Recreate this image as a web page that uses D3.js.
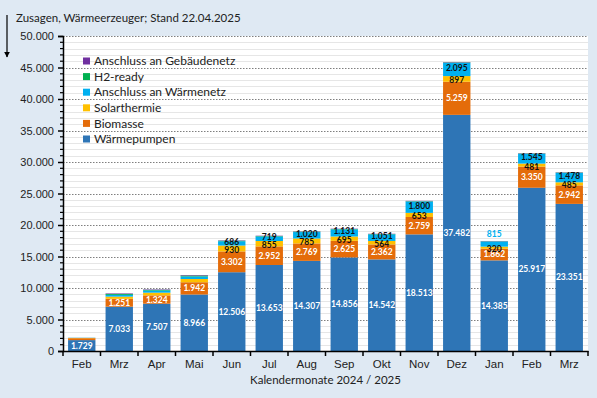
<!DOCTYPE html>
<html lang="de">
<head>
    <meta charset="UTF-8">
    <title>Zusagen Wärmeerzeuger</title>
    <script src="https://d3js.org/d3.v7.min.js"></script>
    <style>
        body { margin: 0; padding: 0; background: #dfe9f3; }
        svg { display: block; font-family: Lato, "Open Sans", sans-serif; }
        .tick text { fill: #222; }
    </style>
</head>
<body>
    <svg></svg>

    <script>
        // Monate (Kalendermonate 2024 / 2025)
        const months = ["Feb", "Mrz", "Apr", "Mai", "Jun", "Jul", "Aug", "Sep", "Okt", "Nov", "Dez", "Jan", "Feb ", "Mrz "];
        const monthLabels = ["Feb", "Mrz", "Apr", "Mai", "Jun", "Jul", "Aug", "Sep", "Okt", "Nov", "Dez", "Jan", "Feb", "Mrz"];

        // Zusagen je Wärmeerzeuger
        const waermepumpen   = [1729, 7033, 7507, 8966, 12506, 13653, 14307, 14856, 14542, 18513, 37482, 14385, 25917, 23351];
        const biomasse       = [300, 1251, 1324, 1942, 3302, 2952, 2769, 2625, 2362, 2759, 5259, 1862, 3350, 2942];
        const solarthermie   = [40, 350, 430, 520, 930, 855, 785, 695, 564, 653, 897, 320, 481, 485];
        const waermenetz     = [25, 280, 330, 400, 686, 719, 1020, 1131, 1051, 1800, 2095, 815, 1545, 1478];
        const h2ready        = [10, 150, 120, 150, 80, 70, 60, 60, 50, 60, 70, 40, 60, 60];
        const gebaeudenetz   = [10, 80, 70, 80, 60, 50, 50, 50, 40, 50, 60, 40, 50, 50];

        const seriesNames = ["Wärmepumpen", "Biomasse", "Solarthermie", "Anschluss an Wärmenetz", "H2-ready", "Anschluss an Gebäudenetz"];
        const seriesValues = [waermepumpen, biomasse, solarthermie, waermenetz, h2ready, gebaeudenetz];
        const colors = ["#2e75b6", "#e46c0a", "#ffc000", "#00b0f0", "#00b050", "#7030a0"];
        const labelColors = ["#ffffff", "#ffffff", "#111111", "#111111"];
        const labelFrom = [0, 1, 4, 4];    // ab welchem Monat (Index) die Reihe beschriftet ist
        const labelNudge = [0, 0, 1.5, -1.5];
        const labelAbove = ["Jan"];        // Wärmenetz-Label oberhalb des Balkens

        const width = 597, height = 398;
        const margin = { top: 36, right: 9, bottom: 47, left: 63 };

        const svg = d3.select("svg")
            .attr("width", width)
            .attr("height", height);

        const de = d3.formatLocale({ decimal: ",", thousands: ".", grouping: [3], currency: ["", " €"] });
        const fmt = de.format(",d");

        // table for stacking
        const table = months.map((m, i) => {
            const row = { month: m };
            seriesNames.forEach((s, j) => row[s] = seriesValues[j][i]);
            return row;
        });
        const stacked = d3.stack().keys(seriesNames)(table);

        const x = d3.scaleBand()
            .domain(months)
            .range([margin.left, width - margin.right])
            .paddingInner(0.27)
            .paddingOuter(0.135);

        const y = d3.scaleLinear()
            .domain([0, 50000])
            .range([height - margin.bottom, margin.top]);

        // plot area
        svg.append("rect")
            .attr("x", margin.left)
            .attr("y", margin.top)
            .attr("width", width - margin.left - margin.right)
            .attr("height", height - margin.top - margin.bottom)
            .attr("fill", "#ffffff");

        const minorVals = d3.range(1000, 50000, 1000).filter(v => v % 5000 !== 0);

        // minor grid
        svg.append("g")
            .selectAll("line")
            .data(minorVals)
            .enter().append("line")
            .attr("x1", margin.left)
            .attr("x2", width - margin.right)
            .attr("y1", d => Math.round(y(d)) + 0.5)
            .attr("y2", d => Math.round(y(d)) + 0.5)
            .attr("stroke", "#e6e6e6")
            .attr("stroke-width", 1);

        // major grid
        svg.append("g")
            .selectAll("line")
            .data(d3.range(5000, 50001, 5000))
            .enter().append("line")
            .attr("x1", margin.left)
            .attr("x2", width - margin.right)
            .attr("y1", d => Math.round(y(d)) + 0.5)
            .attr("y2", d => Math.round(y(d)) + 0.5)
            .attr("stroke", "#7f7f7f")
            .attr("stroke-width", 1)
            .attr("stroke-dasharray", "1.5,1.5");

        // bars
        const layer = svg.append("g")
            .selectAll("g")
            .data(stacked)
            .enter().append("g")
            .attr("fill", (d, i) => colors[i]);

        layer.selectAll("rect")
            .data(d => d)
            .enter().append("rect")
            .attr("x", d => x(d.data.month))
            .attr("width", x.bandwidth())
            .attr("y", d => y(d[1]))
            .attr("height", d => y(d[0]) - y(d[1]));

        // data labels
        const labels = svg.append("g")
            .attr("font-size", 8.5)
            .attr("font-weight", "bold")
            .attr("text-anchor", "middle");

        stacked.forEach((s, i) => {
            if (i >= labelFrom.length) return;
            s.forEach((d, j) => {
                if (j < labelFrom[i]) return;
                const m = d.data.month;
                const cx = x(m) + x.bandwidth() / 2;
                let cy = (y(d[0]) + y(d[1])) / 2 + labelNudge[i];
                let fill = labelColors[i];
                if (i === 3 && labelAbove.includes(m)) {
                    cy = y(stacked[stacked.length - 1][j][1]) - 7;
                    fill = "#00b0f0";
                }
                labels.append("text")
                    .attr("x", cx)
                    .attr("y", cy)
                    .attr("dy", "0.35em")
                    .attr("fill", fill)
                    .text(fmt(d[1] - d[0]));
            });
        });

        // y axis
        const yAxis = svg.append("g")
            .attr("transform", `translate(${margin.left},0)`)
            .call(d3.axisLeft(y).tickValues(d3.range(0, 50001, 5000)).tickFormat(fmt).tickSize(5).tickPadding(4));
        yAxis.select(".domain").attr("stroke", "#000").attr("stroke-width", 1.5);
        yAxis.selectAll(".tick line").attr("stroke", "#000").attr("stroke-width", 1.5);
        yAxis.selectAll(".tick text").attr("font-size", 11);

        // minor y ticks
        svg.append("g")
            .selectAll("line")
            .data(minorVals)
            .enter().append("line")
            .attr("x1", margin.left - 3)
            .attr("x2", margin.left)
            .attr("y1", d => y(d))
            .attr("y2", d => y(d))
            .attr("stroke", "#000")
            .attr("stroke-width", 1.2);

        // x axis
        const xAxis = svg.append("g")
            .attr("transform", `translate(0,${height - margin.bottom})`)
            .call(d3.axisBottom(x).tickSize(0).tickPadding(9).tickFormat((d, i) => monthLabels[i]));
        xAxis.select(".domain").attr("stroke", "#000").attr("stroke-width", 1.5);
        xAxis.selectAll(".tick text").attr("font-size", 11.5);

        // x ticks between categories
        const plotW = width - margin.left - margin.right;
        svg.append("g")
            .selectAll("line")
            .data(d3.range(months.length + 1))
            .enter().append("line")
            .attr("x1", i => margin.left + i * plotW / months.length)
            .attr("x2", i => margin.left + i * plotW / months.length)
            .attr("y1", height - margin.bottom)
            .attr("y2", height - margin.bottom + 5)
            .attr("stroke", "#000")
            .attr("stroke-width", 1.5);

        // x axis title
        svg.append("text")
            .attr("x", margin.left + plotW / 2)
            .attr("y", 384)
            .attr("text-anchor", "middle")
            .attr("font-size", 11.5)
            .attr("fill", "#222")
            .text("Kalendermonate 2024 / 2025");

        // title
        svg.append("text")
            .attr("x", 16)
            .attr("y", 22)
            .attr("font-size", 11.5)
            .attr("fill", "#222")
            .text("Zusagen, Wärmeerzeuger; Stand 22.04.2025");

        // arrow
        svg.append("defs").append("marker")
            .attr("id", "arrow")
            .attr("viewBox", "0 0 10 10")
            .attr("refX", 9).attr("refY", 5)
            .attr("markerWidth", 5).attr("markerHeight", 5)
            .attr("orient", "auto")
            .append("path")
            .attr("d", "M0,0L10,5L0,10z")
            .attr("fill", "#000");
        svg.append("line")
            .attr("x1", 7).attr("x2", 7)
            .attr("y1", 15).attr("y2", 57)
            .attr("stroke", "#000")
            .attr("stroke-width", 1.2)
            .attr("marker-end", "url(#arrow)");

        // legend (reverse order)
        const legend = svg.append("g")
            .selectAll("g")
            .data(seriesNames.slice().reverse())
            .enter().append("g")
            .attr("transform", (d, i) => `translate(83,${61 + i * 15.6})`);
        legend.append("rect")
            .attr("x", 0).attr("y", -3.5)
            .attr("width", 7).attr("height", 7)
            .attr("fill", (d, i) => colors[colors.length - 1 - i]);
        legend.append("text")
            .attr("x", 11)
            .attr("dy", "0.35em")
            .attr("font-size", 12)
            .attr("fill", "#222")
            .text(d => d);
    </script>
</body>
</html>
